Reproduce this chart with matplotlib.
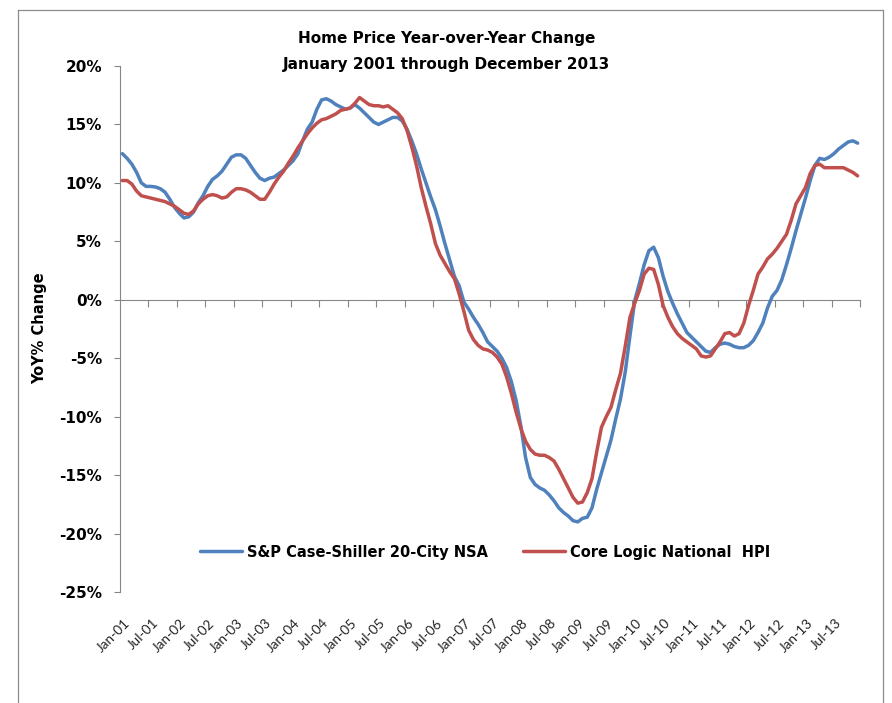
import matplotlib
matplotlib.use("Agg")
import matplotlib.pyplot as plt
import matplotlib.transforms as mtransforms
from matplotlib.lines import Line2D
import numpy as np

# Monthly YoY % change, Jan 2001 .. Dec 2013
CASE_SHILLER = [
    12.5, 12.1, 11.6, 10.9, 10.0, 9.7, 9.7, 9.65, 9.5, 9.2, 8.6, 7.9,          # 2001
    7.4, 7.0, 7.1, 7.5, 8.3, 8.9, 9.7, 10.3, 10.6, 11.0, 11.6, 12.2,           # 2002
    12.4, 12.4, 12.1, 11.5, 10.9, 10.4, 10.2, 10.4, 10.5, 10.8, 11.1, 11.5,    # 2003
    11.9, 12.5, 13.6, 14.6, 15.2, 16.3, 17.1, 17.2, 17.0, 16.7, 16.5, 16.3,    # 2004
    16.4, 16.7, 16.4, 16.0, 15.6, 15.2, 15.0, 15.2, 15.4, 15.6, 15.6, 15.3,    # 2005
    14.6, 13.6, 12.5, 11.2, 10.0, 8.8, 7.7, 6.3, 4.8, 3.4, 2.0, 1.2,           # 2006
    -0.2, -0.8, -1.5, -2.1, -2.8, -3.6, -4.0, -4.4, -5.0, -5.8, -7.0, -8.6,    # 2007
    -10.8, -13.5, -15.2, -15.8, -16.1, -16.3, -16.7, -17.2, -17.8, -18.2, -18.5, -18.9,  # 2008
    -19.0, -18.7, -18.6, -17.8, -16.2, -14.8, -13.4, -12.0, -10.2, -8.5, -6.2, -3.1,     # 2009
    -0.1, 1.4, 3.0, 4.2, 4.5, 3.6, 2.0, 0.7, -0.3, -1.2, -2.0, -2.8,           # 2010
    -3.2, -3.6, -4.0, -4.4, -4.5, -4.1, -3.8, -3.7, -3.8, -4.0, -4.1, -4.1,    # 2011
    -3.9, -3.5, -2.8, -2.0, -0.7, 0.3, 0.8, 1.7, 3.0, 4.4, 5.9, 7.3,           # 2012
    8.7, 10.2, 11.5, 12.1, 12.0, 12.2, 12.5, 12.9, 13.2, 13.5, 13.6, 13.4,     # 2013
]

CORELOGIC = [
    10.2, 10.2, 9.9, 9.3, 8.9, 8.8, 8.7, 8.6, 8.5, 8.4, 8.2, 8.0,              # 2001
    7.7, 7.4, 7.3, 7.6, 8.2, 8.6, 8.9, 9.0, 8.9, 8.7, 8.8, 9.2,                # 2002
    9.5, 9.5, 9.4, 9.2, 8.9, 8.6, 8.6, 9.2, 9.9, 10.5, 11.0, 11.7,             # 2003
    12.3, 13.0, 13.6, 14.2, 14.7, 15.1, 15.4, 15.5, 15.7, 15.9, 16.2, 16.3,    # 2004
    16.4, 16.8, 17.3, 17.0, 16.7, 16.6, 16.6, 16.5, 16.6, 16.3, 16.0, 15.5,    # 2005
    14.5, 13.1, 11.5, 9.6, 8.0, 6.5, 4.8, 3.8, 3.1, 2.4, 1.8, 0.5,             # 2006
    -1.0, -2.6, -3.4, -3.9, -4.2, -4.3, -4.5, -4.9, -5.5, -6.6, -8.0, -9.6,    # 2007
    -11.0, -12.1, -12.8, -13.2, -13.3, -13.3, -13.5, -13.8, -14.5, -15.3, -16.1, -16.9,  # 2008
    -17.4, -17.3, -16.5, -15.3, -13.0, -10.9, -10.0, -9.2, -7.7, -6.3, -4.0, -1.5,       # 2009
    -0.3, 0.8, 2.2, 2.7, 2.6, 1.3, -0.5, -1.5, -2.3, -2.9, -3.3, -3.6,         # 2010
    -3.9, -4.2, -4.8, -4.9, -4.8, -4.2, -3.6, -2.9, -2.8, -3.1, -2.9, -2.0,    # 2011
    -0.5, 0.8, 2.2, 2.8, 3.5, 3.9, 4.4, 5.0, 5.6, 6.8, 8.2, 8.9,               # 2012
    9.6, 10.8, 11.5, 11.6, 11.3, 11.3, 11.3, 11.3, 11.3, 11.1, 10.9, 10.6,     # 2013
]

TICK_LABELS = [
    "Jan-01", "Jul-01", "Jan-02", "Jul-02", "Jan-03", "Jul-03", "Jan-04",
    "Jul-04", "Jan-05", "Jul-05", "Jan-06", "Jul-06", "Jan-07", "Jul-07",
    "Jan-08", "Jul-08", "Jan-09", "Jul-09", "Jan-10", "Jul-10", "Jan-11",
    "Jul-11", "Jan-12", "Jul-12", "Jan-13", "Jul-13",
]
LABEL_EVERY = 6  # months between category labels

Y_TICKS = [20, 15, 10, 5, 0, -5, -10, -15, -20, -25]

COL_CS = "#4F81BD"
COL_CL = "#C0504D"
AXIS_GREY = "#868686"

BOLD = dict(family=["DejaVu Sans"], fontweight="bold", color="black")

W, H = 892, 703
fig = plt.figure(figsize=(W / 100, H / 100), dpi=100)
fig.patch.set_facecolor("white")

# outer chart border (Excel chart area)
for xs, ys in [((18, 18), (0, 693)), ((18, 883), (693, 693)), ((883, 883), (693, 0))]:
    fig.add_artist(Line2D([x / W for x in xs], [y / H for y in ys],
                          color="#8c8c8c", linewidth=0.9))

ax = fig.add_axes([120 / W, 1 - 592 / H, 740 / W, 526 / H])

months = np.arange(len(CASE_SHILLER))
ax.plot(months, CASE_SHILLER, color=COL_CS, linewidth=2.5,
        solid_capstyle="round", label="S&P Case-Shiller 20-City NSA", zorder=3)
ax.plot(months, CORELOGIC, color=COL_CL, linewidth=2.5,
        solid_capstyle="round", label="Core Logic National  HPI", zorder=4)

ax.set_xlim(-0.5, len(months) - 0.5)
ax.set_ylim(-25, 20)

for side in ("top", "right"):
    ax.spines[side].set_visible(False)
ax.spines["left"].set_color(AXIS_GREY)
ax.spines["bottom"].set_color(AXIS_GREY)
ax.spines["bottom"].set_position(("data", 0))
ax.spines["bottom"].set_zorder(2)

# y axis
ax.set_yticks(Y_TICKS)
ax.set_yticklabels([f"{v}%" for v in Y_TICKS])
ax.tick_params(axis="y", direction="out", length=4, width=0.8,
               color=AXIS_GREY, pad=9)
for lbl in ax.get_yticklabels():
    lbl.set_fontfamily("DejaVu Sans")
    lbl.set_fontweight("bold")
    lbl.set_fontsize(11)

# x axis: tick marks on the zero line between category groups
tick_pos = np.arange(LABEL_EVERY, len(months) + 1, LABEL_EVERY) - 0.5
ax.set_xticks(tick_pos)
ax.tick_params(axis="x", direction="out", length=5, width=0.8,
               color=AXIS_GREY, labelbottom=False)

# category labels at the bottom of the plot area, rotated 45 deg
lab_trans = mtransforms.blended_transform_factory(ax.transData, ax.transAxes) + \
    mtransforms.ScaledTranslation(1 / 100, -25 / 100, fig.dpi_scale_trans)
for k, text in enumerate(TICK_LABELS):
    ax.text(k * LABEL_EVERY, 0, text, transform=lab_trans, rotation=45,
            rotation_mode="anchor", ha="right", va="top",
            fontsize=9.8, family=["Lato", "DejaVu Sans"], color="#222222")

# titles
fig.text(447 / W, 1 - 38 / H, "Home Price Year-over-Year Change",
         ha="center", va="center", fontsize=11, **BOLD)
fig.text(447 / W, 1 - 65 / H, "January 2001 through December 2013",
         ha="center", va="center", fontsize=11, **BOLD)
fig.text(40 / W, 1 - 328 / H, "YoY% Change", rotation=90,
         ha="center", va="center", fontsize=10.5, **BOLD)

leg = ax.legend(loc="center", bbox_to_anchor=(485 / W, 1 - 552 / H),
                bbox_transform=fig.transFigure, ncol=2, frameon=False,
                handlelength=2.9, handletextpad=0.3, columnspacing=2.4,
                prop=dict(family="DejaVu Sans", weight="bold", size=10.5))

fig.savefig("out.png", dpi=100, facecolor="white")
